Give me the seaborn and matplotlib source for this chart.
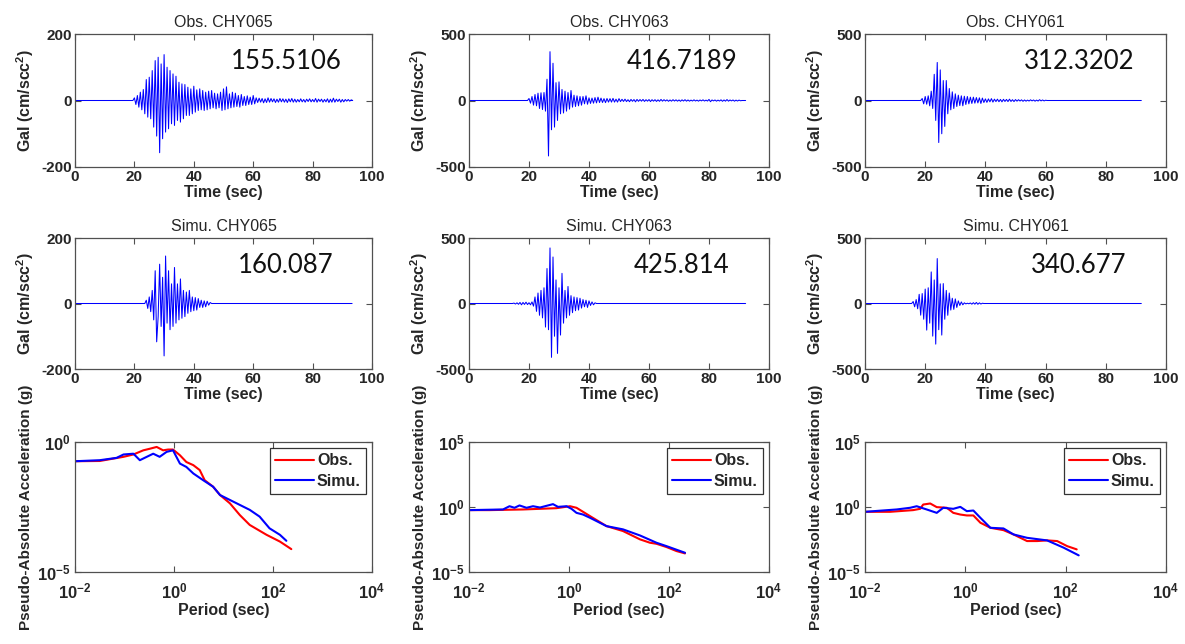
import numpy as np
import pandas as pd
import matplotlib
matplotlib.use("Agg")
import matplotlib.pyplot as plt
import seaborn as sns
from matplotlib.ticker import FixedLocator, FixedFormatter

# ---------------- data ----------------
stations = ["CHY065", "CHY063", "CHY061"]
pga_obs = ["155.5106", "416.7189", "312.3202"]
pga_sim = ["160.087", "425.814", "340.677"]
amp_limit = [200, 500, 500]

sample_dt = 0.5
obs_start = [19.5, 19.5, 18.5]
obs_end = [93.0, 92.2, 91.8]
sim_start = [23.5, 14.5, 15.5]
sim_end = [93.3, 92.2, 91.8]

obs_065 = [8, -12, 15, -20, 25, -28, 33, -40, 63, -50, 70, -55, 90, -80, 120, -107,
           130, -157, 110, -115, 138, -95, 100, -85, 90, -70, 80, -75, 73, -60, 55, -65,
           50, -55, 48, -45, 40, -45, 35, -40, 43, -35, 32, -30, 35, -28, 30, -30, 25, -28,
           28, -25, 30, -22, 22, -25, 20, -22, 25, -30, 35, -28, 41, -25, 20, -22, 25, -20,
           22, -18, 15, -20, 18, -15, 12, -15, 14, -12, 10, -12, 15, -10, 8,
           -6, 7, -5, 6, -7, 5, -6, 8, -5, 6, -4, 5, -6, 4, -5, 6, -4, 5, -5, 4, -6, 5, -4,
           6, -5, 4, -5, 3, -4, 5, -4, 3, -5, 4, -3, 5, -4, 3, -4, 6, -5, 4, -3, 4, -5, 3,
           -4, 5, -6, 4, -5, 7, -5, 4, -3, 4, -5, 3, -4, 3, -2, 3, -2, 2]
obs_063 = [15, -20, 30, -35, 45, -40, 55, -60, 58, -68, 60, -80, 160, -417, 367, -220,
           280, -200, 134, -150, 140, -100, 83, -94, 70, -80, 60, -65, 75, -50, 40, -45,
           35, -40, 30, -35, 30, -25, 35, -28, 20, -22, 18, -20, 22, -18, 25, -15, 18, -15,
           14, -16, 15, -12, 14, -12, 16, -12, 10, -12, 14,
           -8, 9, -7, 10, -8, 6, -9, 8, -6, 7, -10, 8, -6, 7, -5, 8, -7, 6, -5, 7, -8, 6,
           -5, 6, -7, 5, -6, 8, -5, 6, -4, 5, -6, 4, -5, 6, -4, 5, -5, 4, -6, 5, -4, 6, -5,
           4, -5, 3, -4, 5, -4, 3, -5, 4, -3, 5, -4, 3, -4, 8, -9, 4, -3, 4, -5, 3, -4, 5,
           -6, 4, -5, 7, -5, 4, -3, 4, -5, 3, -4, 3, -2]
obs_061 = [15, -25, 30, -28, 35, -40, 70, -60, 197, -150, 286, -316, 230, -250, 150, -195,
           150, -100, 90, -70, 65, -60, 50, -45, 40, -38, 35, -40, 32, -30, 30, -25, 25,
           -22, 25, -20, 22, -18, 20, -22, 18, -15, 12, -14, 12, -10, 14, -12, 10, -8, 10,
           -9, 8, -10, 9, -7, 8, -8, 10, -7, 6, -8, 7,
           -5, 6, -4, 5, -6, 4, -5, 3, -4, 5, -3, 4, -5, 3, -4, 6, -3, 4, -3, 2]
sim_065 = [10, -15, 20, -25, 40, -50, 100, -117, -40, 120, -70, 80, -160, 145, -60, 100,
           -80, 60, -70, 110, -60, 60, -50, 75, -45, 40, -40, 35, -30, 40, -25, 20, -22,
           18, -20, 15, -12, 10, -12, 8, -10, 7, -5, 3]
sim_063 = [3, -4, 5, -6, 8, -10, 8, -7, 10, -8, 6, -10, 12, -20, 50, -60, 80, -90, 100,
           -110, 120, -180, 267, -200, 424, -411, 355, -250, 180, -381, 120, -241, 230,
           -150, 100, -110, 130, -90, 60, -70, 50, -55, 45, -50, 40, -35, 30, -25, 25, -30,
           20, -15, 12, -10, 5]
sim_061 = [15, -25, 30, -40, 70, -89, 76, -120, 110, -203, 120, -150, 241, -249, 180, -310,
           343, -200, 150, -241, 152, -120, 100, -90, 80, -50, 40, -45, 35, -30, 20, -15,
           12, -10, 5, -3, 2, -2, 4, -5, 6, -5, 8, -6, 5, -4, 2]

obs_traces = [obs_065, obs_063, obs_061]
sim_traces = [sim_065, sim_063, sim_061]

# response spectra (log10 period [s], log10 pseudo-acceleration [g])
logT_obs_065 = [-2.00, -1.50, -1.23, -1.02, -0.82, -0.62, -0.49, -0.35, -0.22, -0.12, -0.02,
                0.12, 0.25, 0.39, 0.52, 0.62, 0.79, 0.93, 1.13, 1.33, 1.53, 1.87, 2.14, 2.37]
logA_obs_065 = [-0.74, -0.73, -0.64, -0.57, -0.48, -0.32, -0.26, -0.19, -0.32, -0.29, -0.29,
                -0.51, -0.77, -0.89, -1.08, -1.47, -1.72, -2.04, -2.36, -2.81, -3.19, -3.57,
                -3.83, -4.12]
logT_sim_065 = [-2.00, -1.50, -1.16, -1.02, -0.82, -0.69, -0.55, -0.42, -0.29, -0.15, -0.02,
                0.12, 0.25, 0.39, 0.59, 0.79, 0.93, 1.13, 1.33, 1.53, 1.73, 1.93, 2.14, 2.27]
logA_sim_065 = [-0.74, -0.70, -0.61, -0.48, -0.45, -0.70, -0.57, -0.45, -0.57, -0.38, -0.32,
                -0.83, -0.96, -1.21, -1.47, -1.72, -2.04, -2.23, -2.42, -2.61, -2.87, -3.32,
                -3.57, -3.80]
logT_obs_063 = [-2.00, -1.59, -0.92, -0.58, -0.25, 0.02, 0.15, 0.42, 0.75, 1.08, 1.42, 1.62,
                1.75, 1.95, 2.15, 2.32]
logA_obs_063 = [-0.24, -0.24, -0.19, -0.14, -0.09, 0.06, -0.06, -0.70, -1.47, -1.85, -2.49,
                -2.75, -2.83, -3.08, -3.39, -3.57]
logT_sim_063 = [-2.00, -1.32, -1.19, -1.09, -0.99, -0.85, -0.72, -0.58, -0.45, -0.32, -0.22,
                -0.05, 0.05, 0.15, 0.28, 0.42, 0.75, 1.08, 1.42, 1.75, 1.95, 2.32]
logA_sim_063 = [-0.24, -0.19, 0.06, -0.06, 0.12, -0.06, 0.06, -0.04, 0.09, 0.22, 0.01, 0.06,
                -0.14, -0.45, -0.58, -0.83, -1.47, -1.72, -2.19, -2.75, -3.01, -3.52]
logT_obs_061 = [-2.00, -1.50, -1.04, -0.90, -0.84, -0.70, -0.57, -0.37, -0.24, -0.10, 0.03,
                0.16, 0.30, 0.50, 0.76, 0.96, 1.23, 1.43, 1.63, 1.83, 2.03, 2.22]
logA_obs_061 = [-0.37, -0.37, -0.24, -0.14, 0.19, 0.27, -0.01, -0.06, -0.45, -0.58, -0.65,
                -0.65, -1.21, -1.60, -1.78, -2.11, -2.62, -2.62, -2.57, -2.62, -3.01, -3.26]
logT_sim_061 = [-2.00, -1.37, -1.10, -0.97, -0.77, -0.57, -0.44, -0.24, -0.10, 0.03, 0.16,
                0.30, 0.50, 0.76, 0.96, 1.23, 1.63, 1.96, 2.26]
logA_sim_061 = [-0.37, -0.19, -0.06, 0.06, -0.19, -0.45, -0.06, -0.14, 0.01, -0.32, -0.27,
                -0.83, -1.60, -1.65, -2.11, -2.37, -2.57, -3.13, -3.72]

spec_obs = [(logT_obs_065, logA_obs_065), (logT_obs_063, logA_obs_063), (logT_obs_061, logA_obs_061)]
spec_sim = [(logT_sim_065, logA_sim_065), (logT_sim_063, logA_sim_063), (logT_sim_061, logA_sim_061)]
spec_ylim_exp = [(-5, 0), (-5, 5), (-5, 5)]

# ---------------- style ----------------
sns.set_theme(style="ticks")
plt.rcParams["font.family"] = ["Liberation Sans", "DejaVu Sans"]
plt.rcParams["mathtext.fontset"] = "custom"
plt.rcParams["mathtext.rm"] = "Liberation Sans:bold"
plt.rcParams["mathtext.bf"] = "Liberation Sans:bold"
plt.rcParams["mathtext.it"] = "Liberation Sans:bold"

W, H = 1185, 644
fig = plt.figure(figsize=(W / 100, H / 100), dpi=100)
fig.patch.set_facecolor("white")

cols_px = [(75, 372), (469, 769), (865, 1166)]
rows_px = [(34, 167), (238, 369), (442, 572)]
frame_col = "#505050"
lab_fs = 11.5
tick_fs = 11


def make_ax(c, r):
    x0, x1 = cols_px[c]
    y0, y1 = rows_px[r]
    ax = fig.add_axes([x0 / W, 1 - y1 / H, (x1 - x0) / W, (y1 - y0) / H])
    for s in ax.spines.values():
        s.set_color(frame_col)
        s.set_linewidth(0.9)
    ax.tick_params(direction="in", top=True, right=True, length=4, width=0.8,
                   color=frame_col, labelsize=tick_fs, pad=2)
    return ax


def trace_frame(start, end, vals):
    n = len(vals)
    t = [0.0, start] + [start + sample_dt * (i + 1) for i in range(n)] + \
        [start + sample_dt * (n + 1), end]
    a = [0.0, 0.0] + list(vals) + [0.0, 0.0]
    return pd.DataFrame({"t": t, "a": a})


def seismo(ax, df, lim, title, value):
    sns.lineplot(data=df, x="t", y="a", ax=ax, color="#0000ff", lw=0.75,
                 estimator=None, sort=False)
    ax.set_xlim(0, 100)
    ax.set_ylim(-lim, lim)
    ax.xaxis.set_major_locator(FixedLocator([0, 20, 40, 60, 80, 100]))
    ax.yaxis.set_major_locator(FixedLocator([-lim, 0, lim]))
    ax.set_xticklabels(["0", "20", "40", "60", "80", "100"], fontweight="bold", fontsize=tick_fs)
    ax.set_yticklabels([str(-lim), "0", str(lim)], fontweight="bold", fontsize=tick_fs)
    ax.set_xlabel("Time (sec)", fontweight="bold", fontsize=lab_fs, labelpad=1)
    ax.set_ylabel("Gal (cm/scc$^{2}$)", fontweight="bold", fontsize=lab_fs, labelpad=4)
    ax.set_title(title, fontsize=11.5, pad=5)
    ax.text(0.71, 0.79, value, transform=ax.transAxes, ha="center", va="center",
            fontsize=18.5, family=["Lato", "DejaVu Sans"], color="#111111")


for c in range(3):
    ax = make_ax(c, 0)
    seismo(ax, trace_frame(obs_start[c], obs_end[c], obs_traces[c]), amp_limit[c],
           "Obs. " + stations[c], pga_obs[c])
    ax = make_ax(c, 1)
    seismo(ax, trace_frame(sim_start[c], sim_end[c], sim_traces[c]), amp_limit[c],
           "Simu. " + stations[c], pga_sim[c])

    ax = make_ax(c, 2)
    (to, ao), (ts, as_) = spec_obs[c], spec_sim[c]
    df = pd.DataFrame({
        "T": list(np.power(10.0, to)) + list(np.power(10.0, ts)),
        "SA": list(np.power(10.0, ao)) + list(np.power(10.0, as_)),
        "Record": ["Obs."] * len(to) + ["Simu."] * len(ts),
    })
    sns.lineplot(data=df, x="T", y="SA", hue="Record", ax=ax,
                 palette={"Obs.": "#ff0000", "Simu.": "#0000ff"},
                 estimator=None, sort=False, lw=1.5, legend=False)
    ax.set_xscale("log")
    ax.set_yscale("log")
    ax.set_xlim(1e-2, 1e4)
    lo, hi = spec_ylim_exp[c]
    ax.set_ylim(10.0 ** lo, 10.0 ** hi)
    xt = [-2, 0, 2, 4]
    ax.xaxis.set_major_locator(FixedLocator([10.0 ** e for e in xt]))
    ax.xaxis.set_major_formatter(FixedFormatter(["$10^{%d}$" % e for e in xt]))
    ax.xaxis.set_minor_locator(FixedLocator([]))
    yt = [lo, 0, hi] if hi > 0 else [lo, 0]
    ax.yaxis.set_major_locator(FixedLocator([10.0 ** e for e in yt]))
    ax.yaxis.set_major_formatter(FixedFormatter(["$10^{%d}$" % e for e in yt]))
    ax.yaxis.set_minor_locator(FixedLocator([]))
    ax.tick_params(axis="x", labelsize=tick_fs + 1, pad=7)
    ax.tick_params(axis="y", labelsize=tick_fs + 1, pad=3)
    ax.set_xlabel("Period (sec)", fontweight="bold", fontsize=lab_fs, labelpad=1)
    ax.set_ylabel("Pseudo-Absolute Acceleration (g)", fontweight="bold", fontsize=11,
                  labelpad=3)
    leg = ax.legend(handles=ax.lines[:2], labels=["Obs.", "Simu."], loc="upper right",
                    prop={"weight": "bold", "size": lab_fs},
                    frameon=True, fancybox=False, edgecolor="black",
                    borderaxespad=0.35, handlelength=2.4, handletextpad=0.2,
                    borderpad=0.35, labelspacing=0.35)
    leg.get_frame().set_linewidth(0.9)

fig.savefig("out.png", dpi=100, facecolor="white")
